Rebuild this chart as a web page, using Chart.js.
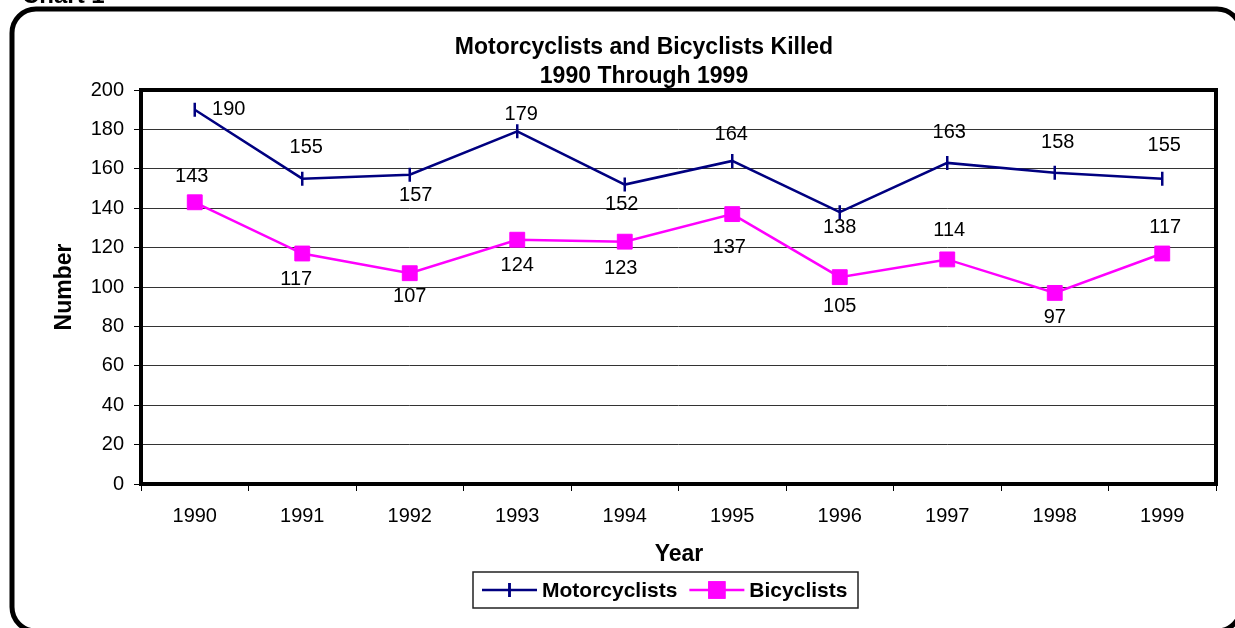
<!DOCTYPE html>
<html>
<head>
<meta charset="utf-8">
<title>Motorcyclists and Bicyclists Killed</title>
<script src="https://cdn.jsdelivr.net/npm/chart.js@4.4.1/dist/chart.umd.min.js"></script>
<style>
  html, body { margin: 0; padding: 0; background: #fff; }
  #wrap { width: 1235px; height: 628px; }
</style>
</head>
<body>
<div id="wrap"><canvas id="myChart" width="1235" height="628"></canvas></div>
<script>
var years = ["1990", "1991", "1992", "1993", "1994", "1995", "1996", "1997", "1998", "1999"];
var motorcyclists = [190, 155, 157, 179, 152, 164, 138, 163, 158, 155];
var bicyclists = [143, 117, 107, 124, 123, 137, 105, 114, 97, 117];
var yTicks = [0, 20, 40, 60, 80, 100, 120, 140, 160, 180, 200];

// where each data label sits relative to its point (dx, dy in px), like the Excel sheet
var labelOffsets = [
  [[34, 0], [4, -31], [6, 21], [4, -17], [-3, 20], [-1, -26], [0, 15], [2, -30], [3, -30], [2, -33]],
  [[-3, -26], [-6, 26], [0, 23], [0, 26], [-4, 27], [-3, 33], [0, 29], [2, -29], [0, 25], [3, -26]]
];

var FONT = "'Liberation Sans', Arial, sans-serif";
Chart.defaults.font.family = FONT;
Chart.defaults.color = "#000";

var decor = {
  id: "decor",
  beforeDraw: function (chart) {
    var ctx = chart.ctx;
    ctx.save();
    ctx.fillStyle = "#fff";
    ctx.fillRect(0, 0, chart.width, chart.height);
    ctx.fillStyle = "#000";
    ctx.textBaseline = "alphabetic";
    ctx.font = "bold 24px " + FONT;
    ctx.fillText("Chart 1", 22, 3);

    // rounded frame round the whole chart
    ctx.lineWidth = 5;
    ctx.strokeStyle = "#000";
    ctx.beginPath();
    ctx.roundRect(12, 9, 1229, 622, 24);
    ctx.stroke();

    ctx.textAlign = "center";
    ctx.font = "bold 23px " + FONT;
    ctx.fillText("Motorcyclists and Bicyclists Killed", 644, 54);
    ctx.fillText("1990 Through 1999", 644, 83);
    ctx.fillText("Year", 679, 561);
    ctx.translate(71, 287);
    ctx.rotate(-Math.PI / 2);
    ctx.fillText("Number", 0, 0);
    ctx.restore();
  },
  beforeDatasetsDraw: function (chart) {
    var a = chart.chartArea, ctx = chart.ctx;
    ctx.save();
    ctx.lineWidth = 4;
    ctx.strokeStyle = "#000";
    ctx.strokeRect(a.left, a.top, a.right - a.left, a.bottom - a.top);
    ctx.restore();
  },
  afterDatasetsDraw: function (chart) {
    var ctx = chart.ctx;
    ctx.save();
    ctx.font = "20px " + FONT;
    ctx.fillStyle = "#000";
    ctx.textAlign = "center";
    ctx.textBaseline = "middle";
    chart.data.datasets.forEach(function (ds, i) {
      chart.getDatasetMeta(i).data.forEach(function (pt, j) {
        var off = labelOffsets[i][j];
        ctx.fillText(String(ds.data[j]), pt.x + off[0], pt.y + off[1]);
      });
    });
    ctx.restore();
  },
  afterDraw: function (chart) {
    var ctx = chart.ctx;
    ctx.save();
    ctx.lineWidth = 1.5;
    ctx.strokeStyle = "#222";
    ctx.strokeRect(473, 572, 385, 36);
    ctx.font = "bold 21px " + FONT;
    ctx.fillStyle = "#000";
    ctx.textBaseline = "alphabetic";
    var x = 482, y = 590;
    chart.data.datasets.forEach(function (ds) {
      ctx.strokeStyle = ds.borderColor;
      ctx.lineWidth = ds.borderWidth;
      ctx.beginPath();
      ctx.moveTo(x, y);
      ctx.lineTo(x + 55, y);
      ctx.stroke();
      Chart.helpers.drawPoint(ctx, {
        pointStyle: ds.pointStyle,
        rotation: ds.pointRotation || 0,
        radius: ds.pointRadius,
        borderWidth: ds.pointBorderWidth
      }, x + 27.5, y);
      if (ds.pointStyle === "rect") {
        ctx.fillStyle = ds.backgroundColor;
        ctx.fill();
      }
      ctx.stroke();
      ctx.fillStyle = "#000";
      ctx.fillText(ds.label, x + 60, y + 7);
      x += 60 + ctx.measureText(ds.label).width + 12;
    });
    ctx.restore();
  }
};

new Chart("myChart", {
  type: "line",
  data: {
    labels: years,
    datasets: [{
      label: "Motorcyclists",
      data: motorcyclists,
      borderColor: "#000080",
      backgroundColor: "#000080",
      borderWidth: 2.5,
      pointStyle: "line",
      pointRotation: 90,
      pointRadius: 7,
      pointHoverRadius: 7,
      pointBorderWidth: 2.5,
      tension: 0
    }, {
      label: "Bicyclists",
      data: bicyclists,
      borderColor: "#ff00ff",
      backgroundColor: "#ff00ff",
      borderWidth: 2.5,
      pointStyle: "rect",
      pointRadius: 10.5,
      pointHoverRadius: 10.5,
      pointBorderWidth: 1,
      tension: 0
    }]
  },
  options: {
    responsive: false,
    animation: false,
    layout: {padding: {top: 90, right: 19, bottom: 0, left: 0}},
    plugins: {
      legend: {display: false},
      title: {display: false},
      tooltip: {enabled: false}
    },
    scales: {
      x: {
        offset: true,
        grid: {offset: true, drawOnChartArea: false, tickLength: 7, color: "#000", lineWidth: 1},
        border: {display: false},
        ticks: {font: {size: 20}, padding: 13, maxRotation: 0, autoSkip: false},
        afterFit: function (s) { s.height = 144; }
      },
      y: {
        min: 0,
        max: 200,
        afterBuildTicks: function (s) { s.ticks = yTicks.map(function (v) { return {value: v}; }); },
        grid: {color: "#333", lineWidth: 1, tickLength: 7, tickColor: "#000"},
        border: {display: false},
        ticks: {font: {size: 20}, padding: 10},
        afterFit: function (s) { s.width = 141; }
      }
    }
  },
  plugins: [decor]
});
</script>
</body>
</html>
